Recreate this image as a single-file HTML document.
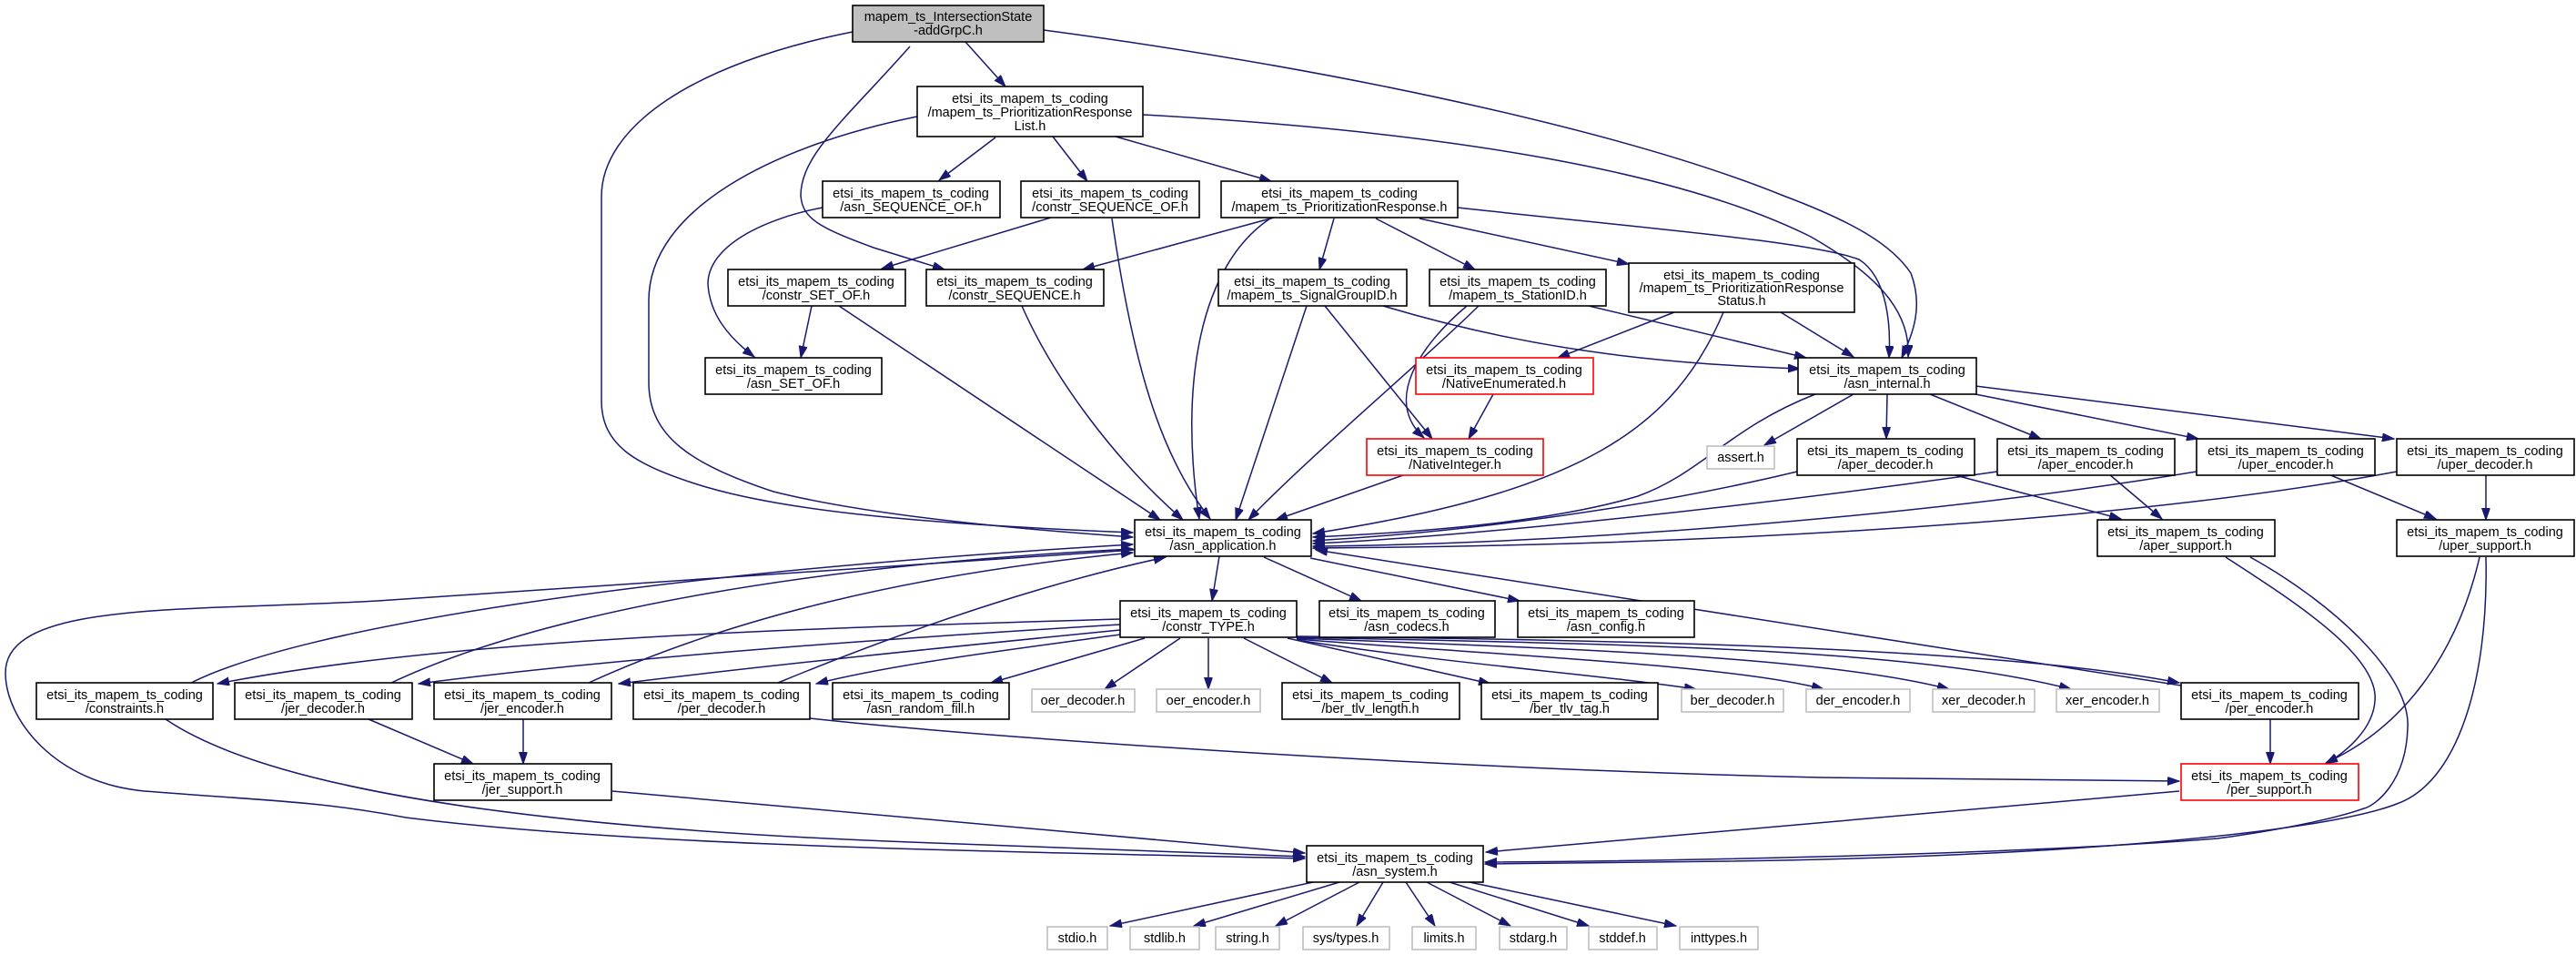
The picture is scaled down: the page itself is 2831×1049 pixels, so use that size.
<!DOCTYPE html>
<html><head><meta charset="utf-8"><style>
html,body{margin:0;padding:0;background:#fff;}
svg{display:block;}
text{font-family:"Liberation Sans",sans-serif;font-size:14.5px;fill:#000;text-anchor:middle;}
.b{fill:#fff;stroke:#000;stroke-width:1.6;}
.g{fill:#fff;stroke:#bfbfbf;stroke-width:1.6;}
.r{fill:#fff;stroke:#ff0000;stroke-width:1.6;}
.e{fill:none;stroke:#191970;stroke-width:1.5;}
</style></head><body>
<svg width="2831" height="1049" viewBox="0 0 2831 1049" xmlns="http://www.w3.org/2000/svg">
<defs><marker id="a" markerUnits="userSpaceOnUse" markerWidth="14" markerHeight="10" refX="13" refY="4.5" orient="auto"><path d="M0,0 L13,4.5 L0,9 z" fill="#191970" stroke="#191970"/></marker></defs>
<g marker-end="url(#a)">
<path class="e" d="M1061,46 L1105,95"/>
<path class="e" d="M937,35 C760,70 661,140 661,216 L661,440 C661,490 700,510 760,530 C850,560 1000,575 1245,585"/>
<path class="e" d="M1000,51 C930,130 880,170 880,215 C882,240 900,250 960,272 L1038,296"/>
<path class="e" d="M1147,33 C1500,80 1800,150 1960,215 C2040,245 2080,270 2100,300 C2115,340 2100,370 2090,393"/>
<path class="e" d="M1008,128 C850,160 713,230 713,330 L713,420 C713,480 760,510 850,540 C950,565 1100,580 1245,590"/>
<path class="e" d="M1094,151 L1032,198"/>
<path class="e" d="M1157,150 L1195,199"/>
<path class="e" d="M1226,150 L1397,199"/>
<path class="e" d="M1256,126 C1600,145 1850,190 1990,260 C2060,300 2100,340 2097,392"/>
<path class="e" d="M904,228 C840,240 778,270 778,312 C780,345 800,370 829,392"/>
<path class="e" d="M1155,239 L969,295"/>
<path class="e" d="M1222,240 C1245,400 1275,500 1330,570"/>
<path class="e" d="M1400,239 L1190,296"/>
<path class="e" d="M1396,240 C1320,290 1295,420 1318,570"/>
<path class="e" d="M1466,240 L1450,296"/>
<path class="e" d="M1512,240 L1621,296"/>
<path class="e" d="M1560,240 L1790,290"/>
<path class="e" d="M1602,228 C1800,250 1990,265 2043,285 C2075,305 2078,360 2076,393"/>
<path class="e" d="M892,336 L880,393"/>
<path class="e" d="M922,336 L1275,571"/>
<path class="e" d="M1123,336 C1160,420 1230,510 1300,571"/>
<path class="e" d="M1436,336 L1358,571"/>
<path class="e" d="M1456,336 L1574,482"/>
<path class="e" d="M1520,336 C1700,390 1850,400 1978,405"/>
<path class="e" d="M1612,336 C1560,380 1520,440 1565,481"/>
<path class="e" d="M1625,336 C1560,400 1440,500 1372,571"/>
<path class="e" d="M1746,336 L1985,393"/>
<path class="e" d="M1840,343 L1712,393"/>
<path class="e" d="M1894,343 C1840,470 1740,540 1443,586"/>
<path class="e" d="M1957,343 L2037,392"/>
<path class="e" d="M1641,433 L1614,482"/>
<path class="e" d="M1542,522 L1402,571"/>
<path class="e" d="M2037,433 L1939,489"/>
<path class="e" d="M2074,433 L2073,482"/>
<path class="e" d="M2121,433 L2243,482"/>
<path class="e" d="M2171,433 L2416,482"/>
<path class="e" d="M2171,424 L2631,482"/>
<path class="e" d="M1995,433 C1900,470 1870,520 1800,545 C1700,575 1550,585 1443,590"/>
<path class="e" d="M1975,518 C1800,560 1600,585 1443,594"/>
<path class="e" d="M2195,518 C1900,560 1600,590 1443,597"/>
<path class="e" d="M2414,518 C2100,570 1700,598 1443,600"/>
<path class="e" d="M2634,518 C2300,580 1800,600 1443,602"/>
<path class="e" d="M2145,521 L2331,570"/>
<path class="e" d="M2318,521 L2376,570"/>
<path class="e" d="M2559,521 L2677,570"/>
<path class="e" d="M2732,522 L2732,571"/>
<path class="e" d="M1340,611 L1332,660"/>
<path class="e" d="M1389,612 L1496,660"/>
<path class="e" d="M1440,613 L1670,660"/>
<path class="e" d="M1247,604 C900,625 600,650 415,660 C200,672 6,660 6,739 C6,790 60,860 159,869 C300,880 350,880 446,898 C700,930 1100,935 1434,943"/>
<path class="e" d="M210,750 C330,690 700,630 1245,598"/>
<path class="e" d="M430,750 C600,670 900,620 1245,603"/>
<path class="e" d="M647,750 C800,680 1000,630 1245,607"/>
<path class="e" d="M855,750 C1000,690 1150,640 1281,612"/>
<path class="e" d="M1231,680 C900,690 500,700 239,751"/>
<path class="e" d="M1231,686 C1000,700 700,720 460,751"/>
<path class="e" d="M1231,692 C1050,710 850,730 680,751"/>
<path class="e" d="M1231,697 C1100,715 980,730 897,751"/>
<path class="e" d="M1258,701 L1089,750"/>
<path class="e" d="M1297,701 L1214,757"/>
<path class="e" d="M1328,701 L1328,757"/>
<path class="e" d="M1367,701 L1464,750"/>
<path class="e" d="M1415,701 L1638,751"/>
<path class="e" d="M1425,703 C1600,730 1750,740 1864,757"/>
<path class="e" d="M1425,702 C1650,720 1900,730 2004,757"/>
<path class="e" d="M1425,701 C1700,712 2000,720 2142,757"/>
<path class="e" d="M1425,700 C1800,708 2100,712 2276,757"/>
<path class="e" d="M1425,699 C1800,703 2200,712 2395,750"/>
<path class="e" d="M2397,753 L1446,604"/>
<path class="e" d="M182,790 C300,870 600,910 1000,925 C1200,933 1350,938 1434,941"/>
<path class="e" d="M405,790 L520,839"/>
<path class="e" d="M575,790 L575,839"/>
<path class="e" d="M673,869 L1434,937"/>
<path class="e" d="M890,789 C1100,812 1600,845 2000,854 L2395,858"/>
<path class="e" d="M2495,790 L2495,839"/>
<path class="e" d="M2446,612 C2520,660 2615,720 2610,770 C2608,800 2580,825 2556,839"/>
<path class="e" d="M2473,612 C2560,660 2650,740 2646,800 C2644,860 2610,885 2598,888 C2550,905 2460,918 2437,921 C2200,940 1800,946 1632,947"/>
<path class="e" d="M2725,612 C2700,720 2640,800 2556,838"/>
<path class="e" d="M2732,612 C2735,750 2700,860 2634,883 C2560,912 2300,940 1900,946 L1632,949"/>
<path class="e" d="M2395,869 L1633,936"/>
<path class="e" d="M1443,969 L1220,1017"/>
<path class="e" d="M1472,969 L1312,1017"/>
<path class="e" d="M1494,969 L1402,1017"/>
<path class="e" d="M1520,969 L1491,1017"/>
<path class="e" d="M1545,969 L1577,1017"/>
<path class="e" d="M1568,969 L1660,1017"/>
<path class="e" d="M1593,969 L1746,1017"/>
<path class="e" d="M1615,969 L1842,1017"/>
</g>
<!-- nodes -->
<rect x="937" y="6" width="210" height="40" fill="#bfbfbf" stroke="#000" stroke-width="1.6"/>
<text x="1042" y="23">mapem_ts_IntersectionState</text><text x="1042" y="38">-addGrpC.h</text>

<rect class="b" x="1008" y="95" width="248" height="55"/>
<text x="1132" y="113">etsi_its_mapem_ts_coding</text><text x="1132" y="128">/mapem_ts_PrioritizationResponse</text><text x="1132" y="143">List.h</text>

<rect class="b" x="904" y="199" width="195" height="40"/><text x="1001" y="217">etsi_its_mapem_ts_coding</text><text x="1001" y="232">/asn_SEQUENCE_OF.h</text>
<rect class="b" x="1122" y="199" width="196" height="40"/><text x="1220" y="217">etsi_its_mapem_ts_coding</text><text x="1220" y="232">/constr_SEQUENCE_OF.h</text>
<rect class="b" x="1342" y="199" width="260" height="40"/><text x="1472" y="217">etsi_its_mapem_ts_coding</text><text x="1472" y="232">/mapem_ts_PrioritizationResponse.h</text>

<rect class="b" x="800" y="296" width="195" height="40"/><text x="897" y="314">etsi_its_mapem_ts_coding</text><text x="897" y="329">/constr_SET_OF.h</text>
<rect class="b" x="1018" y="296" width="195" height="40"/><text x="1115" y="314">etsi_its_mapem_ts_coding</text><text x="1115" y="329">/constr_SEQUENCE.h</text>
<rect class="b" x="1339" y="296" width="207" height="40"/><text x="1442" y="314">etsi_its_mapem_ts_coding</text><text x="1442" y="329">/mapem_ts_SignalGroupID.h</text>
<rect class="b" x="1571" y="296" width="194" height="40"/><text x="1668" y="314">etsi_its_mapem_ts_coding</text><text x="1668" y="329">/mapem_ts_StationID.h</text>
<rect class="b" x="1790" y="289" width="248" height="54"/><text x="1914" y="307">etsi_its_mapem_ts_coding</text><text x="1914" y="321">/mapem_ts_PrioritizationResponse</text><text x="1914" y="335">Status.h</text>

<rect class="b" x="775" y="393" width="194" height="40"/><text x="872" y="411">etsi_its_mapem_ts_coding</text><text x="872" y="426">/asn_SET_OF.h</text>
<rect class="r" x="1556" y="393" width="195" height="40"/><text x="1653" y="411">etsi_its_mapem_ts_coding</text><text x="1653" y="426">/NativeEnumerated.h</text>
<rect class="b" x="1976" y="393" width="196" height="40"/><text x="2074" y="411">etsi_its_mapem_ts_coding</text><text x="2074" y="426">/asn_internal.h</text>

<rect class="r" x="1502" y="482" width="194" height="40"/><text x="1599" y="500">etsi_its_mapem_ts_coding</text><text x="1599" y="515">/NativeInteger.h</text>
<rect class="g" x="1876" y="490" width="74" height="25"/><text x="1913" y="507">assert.h</text>
<rect class="b" x="1975" y="482" width="195" height="40"/><text x="2072" y="500">etsi_its_mapem_ts_coding</text><text x="2072" y="515">/aper_decoder.h</text>
<rect class="b" x="2195" y="482" width="195" height="40"/><text x="2292" y="500">etsi_its_mapem_ts_coding</text><text x="2292" y="515">/aper_encoder.h</text>
<rect class="b" x="2414" y="482" width="196" height="40"/><text x="2512" y="500">etsi_its_mapem_ts_coding</text><text x="2512" y="515">/uper_encoder.h</text>
<rect class="b" x="2634" y="482" width="195" height="40"/><text x="2731" y="500">etsi_its_mapem_ts_coding</text><text x="2731" y="515">/uper_decoder.h</text>

<rect class="b" x="1247" y="571" width="194" height="40"/><text x="1344" y="589">etsi_its_mapem_ts_coding</text><text x="1344" y="604">/asn_application.h</text>
<rect class="b" x="2305" y="571" width="195" height="40"/><text x="2402" y="589">etsi_its_mapem_ts_coding</text><text x="2402" y="604">/aper_support.h</text>
<rect class="b" x="2634" y="571" width="195" height="40"/><text x="2731" y="589">etsi_its_mapem_ts_coding</text><text x="2731" y="604">/uper_support.h</text>

<rect class="b" x="1231" y="660" width="194" height="40"/><text x="1328" y="678">etsi_its_mapem_ts_coding</text><text x="1328" y="693">/constr_TYPE.h</text>
<rect class="b" x="1450" y="660" width="193" height="40"/><text x="1546" y="678">etsi_its_mapem_ts_coding</text><text x="1546" y="693">/asn_codecs.h</text>
<rect class="b" x="1668" y="660" width="194" height="40"/><text x="1765" y="678">etsi_its_mapem_ts_coding</text><text x="1765" y="693">/asn_config.h</text>

<rect class="b" x="40" y="750" width="194" height="40"/><text x="137" y="768">etsi_its_mapem_ts_coding</text><text x="137" y="783">/constraints.h</text>
<rect class="b" x="258" y="750" width="195" height="40"/><text x="355" y="768">etsi_its_mapem_ts_coding</text><text x="355" y="783">/jer_decoder.h</text>
<rect class="b" x="477" y="750" width="195" height="40"/><text x="574" y="768">etsi_its_mapem_ts_coding</text><text x="574" y="783">/jer_encoder.h</text>
<rect class="b" x="696" y="750" width="194" height="40"/><text x="793" y="768">etsi_its_mapem_ts_coding</text><text x="793" y="783">/per_decoder.h</text>
<rect class="b" x="915" y="750" width="194" height="40"/><text x="1012" y="768">etsi_its_mapem_ts_coding</text><text x="1012" y="783">/asn_random_fill.h</text>
<rect class="g" x="1134" y="757" width="113" height="25"/><text x="1190" y="774">oer_decoder.h</text>
<rect class="g" x="1271" y="757" width="114" height="25"/><text x="1328" y="774">oer_encoder.h</text>
<rect class="b" x="1409" y="750" width="195" height="40"/><text x="1506" y="768">etsi_its_mapem_ts_coding</text><text x="1506" y="783">/ber_tlv_length.h</text>
<rect class="b" x="1628" y="750" width="194" height="40"/><text x="1725" y="768">etsi_its_mapem_ts_coding</text><text x="1725" y="783">/ber_tlv_tag.h</text>
<rect class="g" x="1848" y="757" width="112" height="25"/><text x="1904" y="774">ber_decoder.h</text>
<rect class="g" x="1985" y="757" width="114" height="25"/><text x="2042" y="774">der_encoder.h</text>
<rect class="g" x="2124" y="757" width="112" height="25"/><text x="2180" y="774">xer_decoder.h</text>
<rect class="g" x="2260" y="757" width="113" height="25"/><text x="2316" y="774">xer_encoder.h</text>
<rect class="b" x="2397" y="750" width="195" height="40"/><text x="2494" y="768">etsi_its_mapem_ts_coding</text><text x="2494" y="783">/per_encoder.h</text>

<rect class="b" x="477" y="839" width="195" height="40"/><text x="574" y="857">etsi_its_mapem_ts_coding</text><text x="574" y="872">/jer_support.h</text>
<rect class="r" x="2397" y="839" width="195" height="40"/><text x="2494" y="857">etsi_its_mapem_ts_coding</text><text x="2494" y="872">/per_support.h</text>

<rect class="b" x="1436" y="929" width="194" height="40"/><text x="1533" y="947">etsi_its_mapem_ts_coding</text><text x="1533" y="962">/asn_system.h</text>

<rect class="g" x="1151" y="1018" width="66" height="25"/><text x="1184" y="1035">stdio.h</text>
<rect class="g" x="1242" y="1018" width="76" height="25"/><text x="1280" y="1035">stdlib.h</text>
<rect class="g" x="1336" y="1018" width="70" height="25"/><text x="1371" y="1035">string.h</text>
<rect class="g" x="1432" y="1018" width="95" height="25"/><text x="1479" y="1035">sys/types.h</text>
<rect class="g" x="1552" y="1018" width="70" height="25"/><text x="1587" y="1035">limits.h</text>
<rect class="g" x="1648" y="1018" width="74" height="25"/><text x="1685" y="1035">stdarg.h</text>
<rect class="g" x="1746" y="1018" width="75" height="25"/><text x="1783" y="1035">stddef.h</text>
<rect class="g" x="1846" y="1018" width="86" height="25"/><text x="1889" y="1035">inttypes.h</text>
</svg>
</body></html>
